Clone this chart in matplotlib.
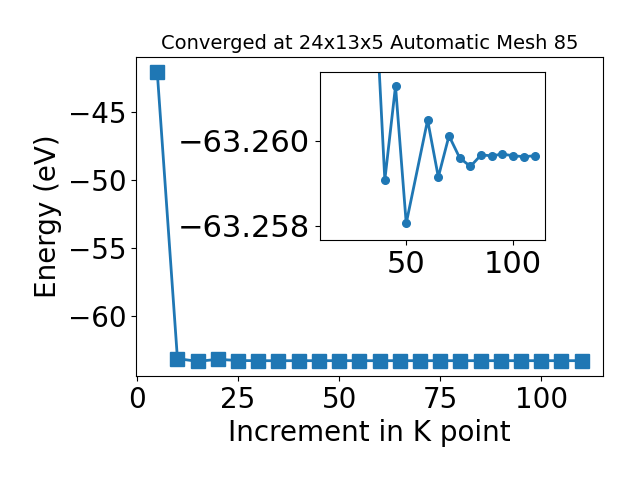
import matplotlib
matplotlib.use("Agg")
import matplotlib.pyplot as plt

# k-point increment vs total energy
kpts = [5, 10, 15, 20, 25, 30, 35, 40, 45, 50, 55, 60, 65, 70, 75, 80, 85, 90, 95, 100, 105, 110]
energy = [-42.0, -63.11, -63.31, -63.16, -63.25, -63.26, -63.264, -63.25908, -63.26129, -63.25806,
          -63.2600, -63.26049, -63.25915, -63.26012, -63.25960, -63.25940, -63.25967, -63.25965,
          -63.25969, -63.25965, -63.25963, -63.25965]

# zoomed-in part
kpts_zoom = [35, 40, 45, 50, 60, 65, 70, 75, 80, 85, 90, 95, 100, 105, 110]
energy_zoom = [-63.264, -63.25908, -63.26129, -63.25806, -63.26049, -63.25915, -63.26012, -63.25960,
               -63.25940, -63.25967, -63.25965, -63.25969, -63.25965, -63.25963, -63.25965]

fig, ax = plt.subplots(figsize=(6.4, 4.8), dpi=100)
fig.subplots_adjust(left=0.2125, right=0.942, top=0.881, bottom=0.217)
ax.plot(kpts, energy, marker='s', markersize=10, linewidth=2, color='#1f77b4')
ax.set_title('Converged at 24x13x5 Automatic Mesh 85', fontsize=14)
ax.set_xlabel('Increment in K point', fontsize=20)
ax.set_ylabel('Energy (eV)', fontsize=20)
ax.tick_params(labelsize=20)

ins = fig.add_axes([0.5, 0.5, 0.352, 0.35])
ins.plot(kpts_zoom, energy_zoom, marker='o', markersize=5.5, linewidth=2, color='#1f77b4')
ins.set_xlim(9.7, 115)
ins.set_ylim(-63.25767, -63.26162)
ins.set_yticks([-63.260, -63.258])
ins.set_xticks([50, 100])
ins.ticklabel_format(axis='y', useOffset=False)
ins.tick_params(labelsize=22)

plt.savefig('out.png', dpi=100)
